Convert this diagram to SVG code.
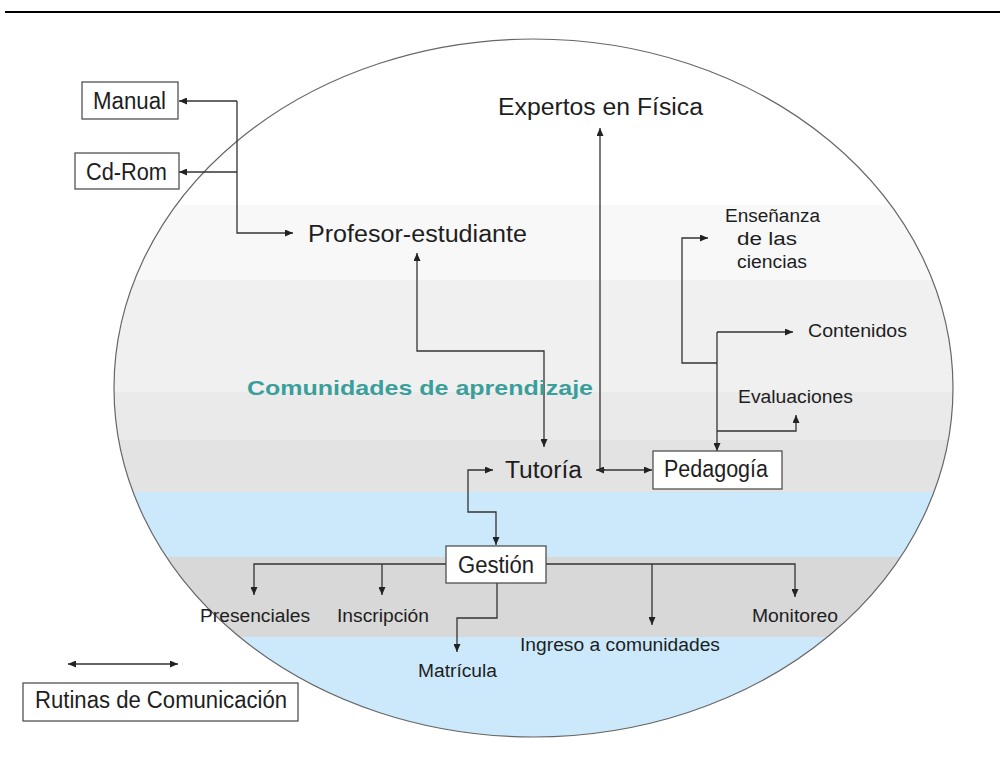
<svg xmlns="http://www.w3.org/2000/svg" width="1000" height="758" viewBox="0 0 1000 758">
<defs>
<clipPath id="ell"><ellipse cx="533.5" cy="388" rx="419.5" ry="349"/></clipPath>
<marker id="ah" viewBox="0 0 8 7" refX="8" refY="3.5" markerWidth="8" markerHeight="7" markerUnits="userSpaceOnUse" orient="auto-start-reverse"><path d="M0,0 L8,3.5 L0,7 z" fill="#222"/></marker>
</defs>
<style>
text{font-family:"Liberation Sans",Arial,sans-serif;fill:#1e1e1e}
.big{font-size:23px}
.sm{font-size:18px}
.box{fill:#fff;stroke:#444;stroke-width:1.2}
.con{fill:none;stroke:#333;stroke-width:1.3}
</style>
<rect width="1000" height="758" fill="#fff"/>
<line x1="5" y1="12" x2="1000" y2="12" stroke="#000" stroke-width="2"/>
<g id="bands" clip-path="url(#ell)">
<rect x="0" y="0" width="1000" height="205" fill="#fff"/>
<rect x="0" y="205" width="1000" height="75" fill="#f8f8f8"/>
<rect x="0" y="280" width="1000" height="112" fill="#f0f0f0"/>
<rect x="0" y="392" width="1000" height="48" fill="#eaeaea"/>
<rect x="0" y="440" width="1000" height="52" fill="#e3e3e3"/>
<rect x="0" y="492" width="1000" height="65" fill="#cce9fb"/>
<rect x="0" y="557" width="1000" height="80" fill="#d8d8d8"/>
<rect x="0" y="637" width="1000" height="121" fill="#cce9fb"/>
</g>
<ellipse cx="533.5" cy="388" rx="419.5" ry="349" fill="none" stroke="#666" stroke-width="1.2"/>
<g id="connectors">
<path class="con" d="M237,101 H179" marker-end="url(#ah)"/>
<path class="con" d="M237,101 V233 H293" marker-end="url(#ah)"/>
<path class="con" d="M237,172 H179" marker-end="url(#ah)"/>
<path class="con" d="M417,253 V351 H544 V447" marker-start="url(#ah)" marker-end="url(#ah)"/>
<path class="con" d="M600,470 V128" marker-end="url(#ah)"/>
<path class="con" d="M605,470 H596" marker-end="url(#ah)"/>
<path class="con" d="M600,470 H652" marker-end="url(#ah)"/>
<path class="con" d="M493,470 H468 V512 H496 V545" marker-start="url(#ah)" marker-end="url(#ah)"/>
<path class="con" d="M717,332 V451" marker-end="url(#ah)"/>
<path class="con" d="M717,332 H793" marker-end="url(#ah)"/>
<path class="con" d="M717,363 H682 V238 H708" marker-end="url(#ah)"/>
<path class="con" d="M717,431 H796 V415" marker-end="url(#ah)"/>
<path class="con" d="M446,564 H254 V595" marker-end="url(#ah)"/>
<path class="con" d="M382,564 V595" marker-end="url(#ah)"/>
<path class="con" d="M546,564 H795 V597" marker-end="url(#ah)"/>
<path class="con" d="M652,564 V625" marker-end="url(#ah)"/>
<path class="con" d="M497,583 V618 H457 V652" marker-end="url(#ah)"/>
<path class="con" d="M68,664 H178" marker-start="url(#ah)" marker-end="url(#ah)"/>
</g>
<g id="manual"><rect class="box" x="82" y="82" width="96" height="37"/><text class="big" x="93" y="109" textLength="73" lengthAdjust="spacingAndGlyphs">Manual</text></g>
<g id="cdrom"><rect class="box" x="75" y="153" width="104" height="36"/><text class="big" x="86" y="180" textLength="81" lengthAdjust="spacingAndGlyphs">Cd-Rom</text></g>
<g id="profesor"><text class="big" x="308" y="242" textLength="219" lengthAdjust="spacingAndGlyphs">Profesor-estudiante</text></g>
<g id="expertos"><text class="big" x="498" y="115" textLength="205" lengthAdjust="spacingAndGlyphs">Expertos en Física</text></g>
<g id="comunidades"><text x="247" y="395" font-size="21" font-weight="bold" style="fill:#3a9f9b" textLength="346" lengthAdjust="spacingAndGlyphs">Comunidades de aprendizaje</text></g>
<g id="tutoria"><text class="big" x="505" y="478" textLength="77" lengthAdjust="spacingAndGlyphs">Tutoría</text></g>
<g id="pedagogia"><rect class="box" x="653" y="451" width="129" height="38"/><text class="big" x="664" y="477" textLength="104" lengthAdjust="spacingAndGlyphs">Pedagogía</text></g>
<g id="ensenanza"><text class="sm" x="725" y="222" textLength="95" lengthAdjust="spacingAndGlyphs">Enseñanza</text><text class="sm" x="737" y="245" textLength="60" lengthAdjust="spacingAndGlyphs">de las</text><text class="sm" x="737" y="268" textLength="70" lengthAdjust="spacingAndGlyphs">ciencias</text></g>
<g id="contenidos"><text class="sm" x="808" y="337" textLength="99" lengthAdjust="spacingAndGlyphs">Contenidos</text></g>
<g id="evaluaciones"><text class="sm" x="738" y="403" textLength="115" lengthAdjust="spacingAndGlyphs">Evaluaciones</text></g>
<g id="gestion"><rect class="box" x="446" y="546" width="100" height="37"/><text class="big" x="458" y="573" textLength="76" lengthAdjust="spacingAndGlyphs">Gestión</text></g>
<g id="presenciales"><text class="sm" x="200" y="622" textLength="110" lengthAdjust="spacingAndGlyphs">Presenciales</text></g>
<g id="inscripcion"><text class="sm" x="337" y="622" textLength="92" lengthAdjust="spacingAndGlyphs">Inscripción</text></g>
<g id="matricula"><text class="sm" x="418" y="677" textLength="79" lengthAdjust="spacingAndGlyphs">Matrícula</text></g>
<g id="ingreso"><text class="sm" x="520" y="651" textLength="200" lengthAdjust="spacingAndGlyphs">Ingreso a comunidades</text></g>
<g id="monitoreo"><text class="sm" x="752" y="622" textLength="86" lengthAdjust="spacingAndGlyphs">Monitoreo</text></g>
<g id="legend"><rect class="box" x="23" y="683" width="275" height="38"/><text class="big" x="35" y="708" textLength="252" lengthAdjust="spacingAndGlyphs">Rutinas de Comunicación</text></g>
</svg>
